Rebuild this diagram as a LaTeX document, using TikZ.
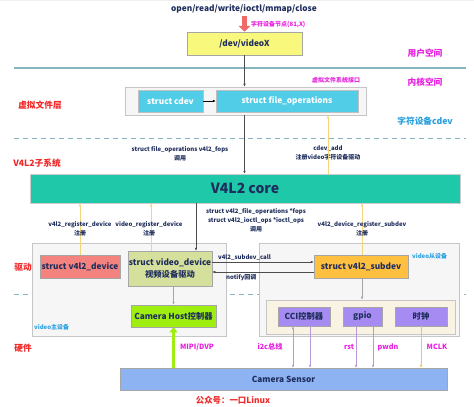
\documentclass[tikz,border=0pt]{standalone}
\usepackage{fontspec}
\setmainfont{Noto Sans CJK SC}
\usetikzlibrary{arrows.meta}
\definecolor{navy}{HTML}{1F2D5C}
\definecolor{mag}{HTML}{E81FE0}
\definecolor{lblred}{HTML}{F02828}
\definecolor{lblblue}{HTML}{2A9FE0}
\definecolor{cyanbox}{HTML}{52CDE8}
\definecolor{coreteal}{HTML}{1EC8A8}
\definecolor{salmon}{HTML}{F4837F}
\definecolor{olivebox}{HTML}{D5E09C}
\definecolor{limebox}{HTML}{9EEE10}
\definecolor{orangebox}{HTML}{FFC040}
\definecolor{purplebox}{HTML}{A68CF2}
\definecolor{sensorblue}{HTML}{8DB3F2}
\definecolor{devyellow}{HTML}{F8F87C}
\definecolor{beige}{HTML}{F8F3E3}
\definecolor{sepline}{HTML}{86B5C0}
\definecolor{regyellow}{HTML}{F2D77A}
\definecolor{plline}{HTML}{B898D8}
\definecolor{arrred}{HTML}{F06A6A}
\tikzset{
  x=1pt,y=-1pt,
  box/.style={draw=gray!70,line width=0.5pt,inner sep=0pt,align=center,font=\bfseries\fontsize{8.3}{10}\selectfont,text=navy},
  cont/.style={draw=gray!45,line width=0.6pt,fill=gray!7,inner sep=0pt},
  small/.style={font=\bfseries\fontsize{6}{9}\selectfont,text=navy,align=center,inner sep=0pt},
  hwlbl/.style={font=\bfseries\fontsize{7.2}{8}\selectfont,text=mag,inner sep=0pt},
  region/.style={font=\bfseries\fontsize{8.7}{10}\selectfont,inner sep=0pt},
  tip/.style={-{Latex[length=3pt,width=2.6pt]}},
  conn/.style={gray!70,line width=0.5pt,tip},
  reg/.style={regyellow,line width=0.5pt,-{Latex[length=3pt,width=2.6pt]}},
}
\begin{document}
\begin{tikzpicture}
\useasboundingbox (0,0) rectangle (474,407);
\fill[white] (0,0) rectangle (474,407);
\draw[gray!12,line width=0.3pt,step=12pt] (0,-407) grid (474,0);
% separators
\draw[sepline,line width=1.2pt] (14,68) -- (466,68);
\draw[sepline,line width=0.7pt,dash pattern=on 5pt off 4pt] (14,138) -- (466,138);
\draw[sepline,line width=0.7pt,dash pattern=on 5pt off 4pt] (14,294) -- (466,294);
% user space
\node[font=\bfseries\fontsize{8.3}{9}\selectfont,text=navy,inner sep=0pt] (title) at (244,9) {open/read/write/ioctl/mmap/close};
\node[box,fill=devyellow,minimum width=115pt,minimum height=23pt] (dev) at (244.5,43.5) {/dev/videoX};
\coordinate (arrtop) at (244.5,16);
\draw[arrred,line width=4.5pt,-{Triangle[length=6pt,width=12pt]}] (arrtop) -- (dev.north);
\node[small,text=mag,anchor=west] (nodelbl) at (251,25) {字符设备节点(81,X)};
\node[region,text=mag] (us) at (425,53) {用户空间};
\node[region,text=mag] (ks) at (425,82) {内核空间};
\node[small,text=mag] (vfsi) at (336,80) {虚拟文件系统接口};
% VFS
\node[cont,minimum width=241pt,minimum height=28pt] (vfs) at (245.5,101) {};
\node[box,fill=cyanbox,text=white,draw=gray!50,minimum width=65pt,minimum height=22pt] (cdev) at (170.5,101) {struct cdev};
\node[box,fill=cyanbox,text=white,draw=gray!50,minimum width=142pt,minimum height=22pt] (fops) at (287,101) {struct file\_operations};
\draw[black,line width=0.5pt,tip] (cdev) -- (fops);
\node[region,text=lblred] (vfsl) at (40,105) {虚拟文件层};
\node[region,text=lblblue] (cdevl) at (425,121) {字符设备cdev};
\draw[conn,black!70] (dev.south) -- (dev.south |- vfs.north);
% V4L2 core
\node[box,fill=coreteal,draw=gray!40,minimum width=430pt,minimum height=29pt,font=\bfseries\fontsize{14}{16}\selectfont] (core) at (245,188.5) {V4L2 core};
\draw[conn,black!70] (dev.south |- vfs.south) -- (dev.south |- core.north);
\node[small] (fopsl) at (180,153.5) {struct file\_operations v4l2\_fops\\调用};
\node[small] (cdevadd) at (328,152.5) {cdev\_add\\注册video字符设备驱动};
\draw[reg] ([xshift=82.5pt]vfs.south |- core.north) -- ([xshift=82.5pt]vfs.south);
\node[region,text=lblred] (v4l2l) at (37,163) {V4L2子系统};
% driver containers
\node[cont,minimum width=194pt,minimum height=93pt] (lc) at (129,289.5) {};
\node[cont,minimum width=200pt,minimum height=93pt] (rc) at (359,289.5) {};
\node[region,text=lblred] (drv) at (23,267) {驱动};
\node[box,fill=salmon,minimum width=80pt,minimum height=23pt] (v4dev) at (80,266.5) {struct v4l2\_device};
\node[box,fill=olivebox,minimum width=84pt,minimum height=35pt,font=\bfseries\fontsize{8.3}{12}\selectfont] (vd) at (170,268.5) {struct video\_device\\视频设备驱动};
\node[box,fill=orangebox,minimum width=94pt,minimum height=23pt] (sub) at (361,266.5) {struct v4l2\_subdev};
\node[small,text=lblblue,anchor=west] (slave) at (412,256) {video从设备};
\node[small,text=lblblue,anchor=west] (master) at (34,327) {video主设备};
% register arrows
\draw[reg] (v4dev.north) -- (v4dev.north |- core.south);
\draw[reg] ([xshift=-19pt]vd.north) -- ([xshift=-19pt]vd.north |- core.south);
\draw[reg] ([xshift=1pt]sub.north) -- ([xshift=1pt]sub.north |- core.south);
\node[small] (r1) at (80,228.5) {v4l2\_register\_device\\注册};
\node[small] (r2) at (149,228.5) {video\_register\_device\\注册};
\node[small] (r3) at (362,228.5) {v4l2\_device\_register\_subdev\\注册};
\draw[conn,black!70] ([xshift=26pt]vd.north |- core.south) -- ([xshift=26pt]vd.north);
\node[small] (ops) at (256,220) {struct v4l2\_file\_operations *fops\\struct v4l2\_ioctl\_ops *ioctl\_ops\\调用};
% subdev call / notify
\draw[conn,black!70] ([yshift=6.5pt]vd.east) -- ([yshift=6.5pt]vd.east -| sub.west);
\draw[conn,black!70] ([yshift=-3.5pt]vd.east -| sub.west) -- ([yshift=-3.5pt]vd.east);
\node[small,anchor=west] (call) at (218,258) {v4l2\_subdev\_call};
\node[small,anchor=west] (notify) at (226,277.5) {notify回调};
% hardware
\node[box,fill=limebox,minimum width=85pt,minimum height=22pt] (ch) at (173.5,316) {Camera Host控制器};
\draw[conn] (ch.north |- vd.south) -- (ch.north);
\node[cont,fill=beige,minimum width=189pt,minimum height=34pt] (inner) at (360.5,317) {};
\draw[conn] ([xshift=1pt]sub.south) -- ([xshift=1pt]sub.south |- inner.north);
\node[box,fill=purplebox,minimum width=52pt,minimum height=19pt] (cci) at (304,316.5) {CCI控制器};
\node[box,fill=purplebox,minimum width=39pt,minimum height=19pt] (gpio) at (362.5,316.5) {gpio};
\node[box,fill=purplebox,minimum width=52pt,minimum height=19pt] (clk) at (421,316.5) {时钟};
\node[box,fill=sensorblue,minimum width=327pt,minimum height=22pt] (sensor) at (283.5,379) {Camera Sensor};
\node[region,text=lblred] (hw) at (23,348) {硬件};
\draw[limebox,line width=2.8pt,-{Triangle[length=5pt,width=8pt]}] (ch.south |- sensor.north) -- (ch.south);
\node[hwlbl] (mipi) at (197,347) {MIPI/DVP};
\draw[plline,line width=0.5pt,{Latex[length=3pt,width=2.6pt]}-{Latex[length=3pt,width=2.6pt]}] ([xshift=-11pt]cci.south) -- ([xshift=-11pt]cci.south |- sensor.north);
\draw[plline,line width=0.5pt,tip] ([xshift=6pt]cci.south) -- ([xshift=6pt]cci.south |- sensor.north);
\draw[plline,line width=0.5pt,tip] ([xshift=-6.5pt]gpio.south) -- ([xshift=-6.5pt]gpio.south |- sensor.north);
\draw[plline,line width=0.5pt,tip] ([xshift=10.5pt]gpio.south) -- ([xshift=10.5pt]gpio.south |- sensor.north);
\draw[orangebox,line width=0.5pt,tip] (clk.south) -- (clk.south |- sensor.north);
\node[hwlbl] (i2c) at (270,347) {i2c总线};
\node[hwlbl] (rst) at (349,347) {rst};
\node[hwlbl] (pwdn) at (388,347) {pwdn};
\node[hwlbl] (mclk) at (437,347) {MCLK};
\node[region,text=lblred,font=\bfseries\fontsize{8.4}{9}\selectfont] (gzh) at (233,400) {公众号：一口Linux};
\end{tikzpicture}
\end{document}
